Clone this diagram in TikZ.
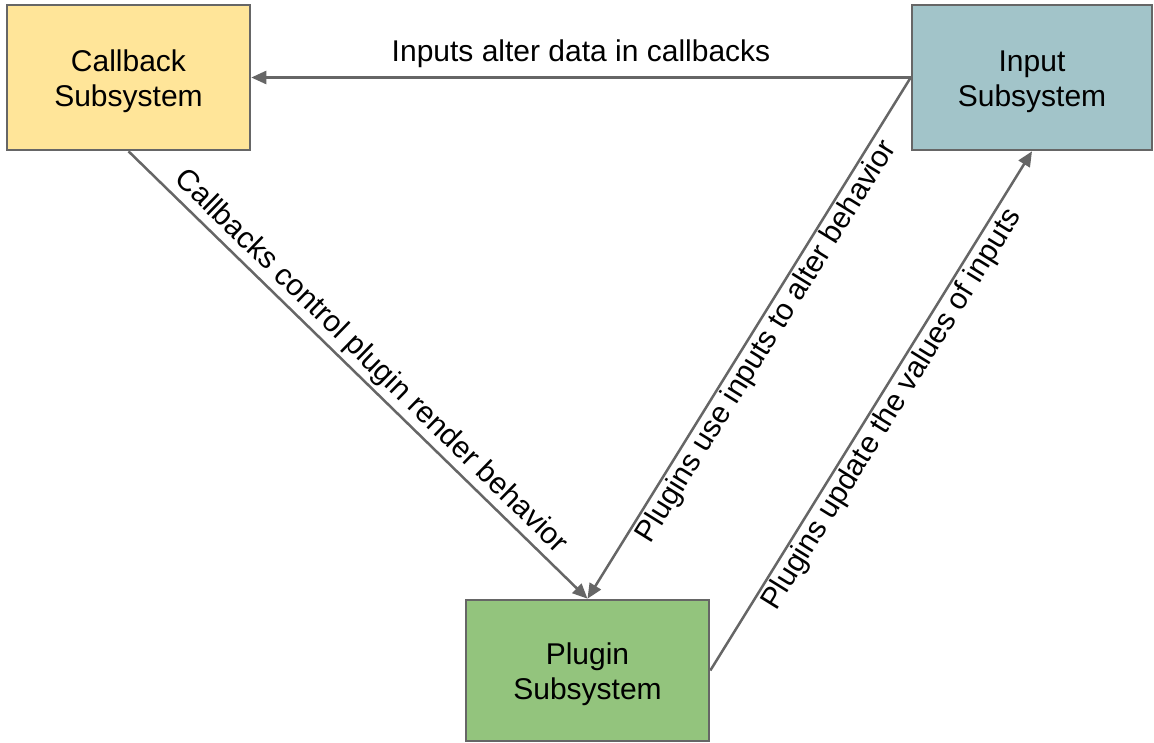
\documentclass[tikz,border=0pt]{standalone}
\usepackage{fontspec}
\setmainfont{Liberation Sans}
\usetikzlibrary{arrows.meta}
\definecolor{cbfill}{HTML}{FFE599}
\definecolor{infill}{HTML}{A2C4C9}
\definecolor{plfill}{HTML}{93C47D}
\definecolor{edgegray}{HTML}{666666}
\begin{document}
\begin{tikzpicture}[x=1pt,y=-1pt,
  font=\fontsize{30}{35}\selectfont,
  subsys/.style={draw=edgegray, line width=2.6pt, rectangle, inner sep=0pt,
    minimum width=243pt, minimum height=145pt},
  boxtext/.style={label={[align=center, yshift=-4pt]center:#1}},
  flow/.style={draw=edgegray, line width=2.5pt,
    -{Triangle[length=15pt,width=13pt]}},
  lblup/.style={sloped, above, inner sep=3pt},
  lbldown/.style={sloped, below, inner sep=2pt}]
\useasboundingbox (0,0) rectangle (1154,742);
\clip (0,0) rectangle (1154,742);

% subsystems
\node[subsys, fill=cbfill, boxtext={Callback\\Subsystem}] (cb) at (128.5,77.5) {};
\node[subsys, fill=infill, minimum width=240pt, boxtext={Input\\Subsystem}] (in) at (1032,77.5) {};
\node[subsys, fill=plfill, minimum height=141pt, boxtext={Plugin\\Subsystem}] (pl) at (587.5,670.5) {};

% relations
\draw[flow] (in.west) -- node[above, inner sep=4pt, yshift=5pt] {Inputs alter data in callbacks} (cb.east);
\draw[flow] (cb.south) -- node[lblup, pos=0.5] {Callbacks control plugin render behavior} (pl.north);
\draw[flow] (in.west) -- node[lbldown, pos=0.49] {Plugins use inputs to alter behavior} (pl.north);
\draw[flow] (pl.east) -- node[lbldown, pos=0.52] {Plugins update the values of inputs} (in.south);
\end{tikzpicture}
\end{document}
